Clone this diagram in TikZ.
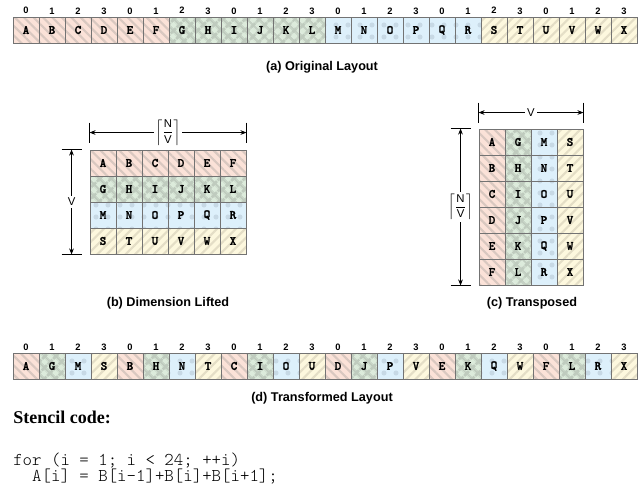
\documentclass[tikz,border=0pt]{standalone}
\usepackage{amsmath}
\usepackage{fontspec}
\setmainfont{Liberation Serif}
\setsansfont{Liberation Sans}
\newfontfamily\cellfont[FakeBold=1.6]{lmmonolt10-bold.otf}
\newfontfamily\codefont{lmmonolt10-regular.otf}
\usepackage{xcolor}
\usetikzlibrary{patterns.meta,arrows.meta,positioning,calc}

\definecolor{redbg}{HTML}{FBE2D8}
\definecolor{redln}{HTML}{D9C8C0}
\definecolor{grnbg}{HTML}{DCEBDB}
\definecolor{grnln}{HTML}{BFCBBE}
\definecolor{blubg}{HTML}{DDF0FB}
\definecolor{bludot}{HTML}{C7D9E5}
\definecolor{ylwbg}{HTML}{FDF8DE}
\definecolor{ylwln}{HTML}{E4DEC6}

\newcommand{\ceilnv}{$\left\lceil\dfrac{\textsf{N}}{\textsf{V}}\right\rceil$}

\begin{document}
\begin{tikzpicture}[
    x=0.75pt, y=-0.75pt,
    cell/.style={draw=black!55, line width=0.7pt, minimum size=19.5pt, inner sep=0pt, font=\cellfont\fontsize{9.5}{9.5}\selectfont},
    c0/.style={preaction={fill=redbg}, pattern={Lines[angle=-45,distance=5pt,line width=1.6pt]}, pattern color=redln},
    c1/.style={preaction={fill=grnbg}, pattern={Hatch[angle=45,distance=6.5pt,line width=2.4pt]}, pattern color=grnln},
    c2/.style={preaction={fill=blubg}, pattern={Dots[distance=9pt,radius=1.9pt]}, pattern color=bludot},
    c3/.style={preaction={fill=ylwbg}, pattern={Lines[angle=45,distance=5pt,line width=1.6pt]}, pattern color=ylwln},
    idx/.style={inner sep=0.5pt, font=\sffamily\bfseries\fontsize{7}{7}\selectfont},
    captext/.style={font=\sffamily\bfseries\fontsize{9.5}{10}\selectfont},
    dim/.style={fill=white, inner sep=1.5pt, font=\sffamily\fontsize{8.5}{10}\selectfont},
    dimline/.style={{Stealth[length=4.5pt,width=3.5pt]}-{Stealth[length=4.5pt,width=3.5pt]}, line width=0.5pt},
    tick/.style={line width=0.5pt},
    codeline/.style={anchor=base west, inner sep=0pt, font=\codefont\fontsize{13.5}{14}\selectfont}
]
\useasboundingbox (0,0) rectangle (643,493);

% (a) original layout
\foreach \ch [count=\i from 0] in {A,B,C,D,E,F,G,H,I,J,K,L,M,N,O,P,Q,R,S,T,U,V,W,X} {
    \pgfmathtruncatemacro{\grp}{\i/6}
    \pgfmathtruncatemacro{\idx}{mod(\i,4)}
    \node[cell, c\grp] (a\i) at ({26+26*\i},30) {\ch};
    \node[idx, above=1pt of a\i] (ai\i) {\idx};
}
\node[captext] (capa) at (322,67) {(a) Original Layout};

% (b) dimension lifted
\foreach \ch [count=\i from 0] in {A,B,C,D,E,F,G,H,I,J,K,L,M,N,O,P,Q,R,S,T,U,V,W,X} {
    \pgfmathtruncatemacro{\row}{\i/6}
    \pgfmathtruncatemacro{\col}{mod(\i,6)}
    \node[cell, c\row] (b-\row-\col) at ({103+26*\col},{163+26*\row}) {\ch};
}
\coordinate (bw1) at ($(b-0-0.north west)+(0,-17)$);
\coordinate (bw2) at ($(b-0-5.north east)+(0,-17)$);
\draw[dimline] (bw1) -- (bw2);
\draw[tick] ($(bw1)+(0,-10)$) -- ($(bw1)+(0,10)$);
\draw[tick] ($(bw2)+(0,-10)$) -- ($(bw2)+(0,10)$);
\node[dim] (bwl) at ($(bw1)!0.5!(bw2)$) {\ceilnv};

\coordinate (bh1) at ($(b-0-0.north west)+(-18,0)$);
\coordinate (bh2) at ($(b-3-0.south west)+(-18,0)$);
\draw[dimline] (bh1) -- (bh2);
\draw[tick] ($(bh1)+(-10,0)$) -- ($(bh1)+(10,0)$);
\draw[tick] ($(bh2)+(-10,0)$) -- ($(bh2)+(10,0)$);
\node[dim] (bhl) at ($(bh1)!0.5!(bh2)$) {V};

\node[captext] (capb) at (168,303) {(b) Dimension Lifted};

% (c) transposed
\foreach \ch [count=\i from 0] in {A,B,C,D,E,F,G,H,I,J,K,L,M,N,O,P,Q,R,S,T,U,V,W,X} {
    \pgfmathtruncatemacro{\col}{\i/6}
    \pgfmathtruncatemacro{\row}{mod(\i,6)}
    \node[cell, c\col] (c-\row-\col) at ({492+26*\col},{142+26*\row}) {\ch};
}
\coordinate (cw1) at ($(c-0-0.north west)+(0,-16)$);
\coordinate (cw2) at ($(c-0-3.north east)+(0,-16)$);
\draw[dimline] (cw1) -- (cw2);
\draw[tick] ($(cw1)+(0,-10)$) -- ($(cw1)+(0,10)$);
\draw[tick] ($(cw2)+(0,-10)$) -- ($(cw2)+(0,10)$);
\node[dim] (cwl) at ($(cw1)!0.5!(cw2)$) {V};

\coordinate (ch1) at ($(c-0-0.north west)+(-18,0)$);
\coordinate (ch2) at ($(c-5-0.south west)+(-18,0)$);
\draw[dimline] (ch1) -- (ch2);
\draw[tick] ($(ch1)+(-10,0)$) -- ($(ch1)+(10,0)$);
\draw[tick] ($(ch2)+(-10,0)$) -- ($(ch2)+(10,0)$);
\node[dim] (chl) at ($(ch1)!0.5!(ch2)$) {\ceilnv};

\node[captext] (capc) at (532,303) {(c) Transposed};

% (d) transformed layout
\foreach \ch [count=\i from 0] in {A,G,M,S,B,H,N,T,C,I,O,U,D,J,P,V,E,K,Q,W,F,L,R,X} {
    \pgfmathtruncatemacro{\idx}{mod(\i,4)}
    \node[cell, c\idx] (d\i) at ({26+26*\i},366) {\ch};
    \node[idx, above=1pt of d\i] (di\i) {\idx};
}
\node[captext] (capd) at (322,398) {(d) Transformed Layout};

% stencil code
\node[anchor=base west, inner sep=0pt, font=\bfseries\fontsize{13.5}{14}\selectfont] (title) at (13,423) {Stencil code:};
\node[codeline] (code1) at (13,465) {for (i = 1; i < 24; ++i)};
\node[codeline] (code2) at (13,481) {~~A[i] = B[i-1]+B[i]+B[i+1];};

\end{tikzpicture}
\end{document}
